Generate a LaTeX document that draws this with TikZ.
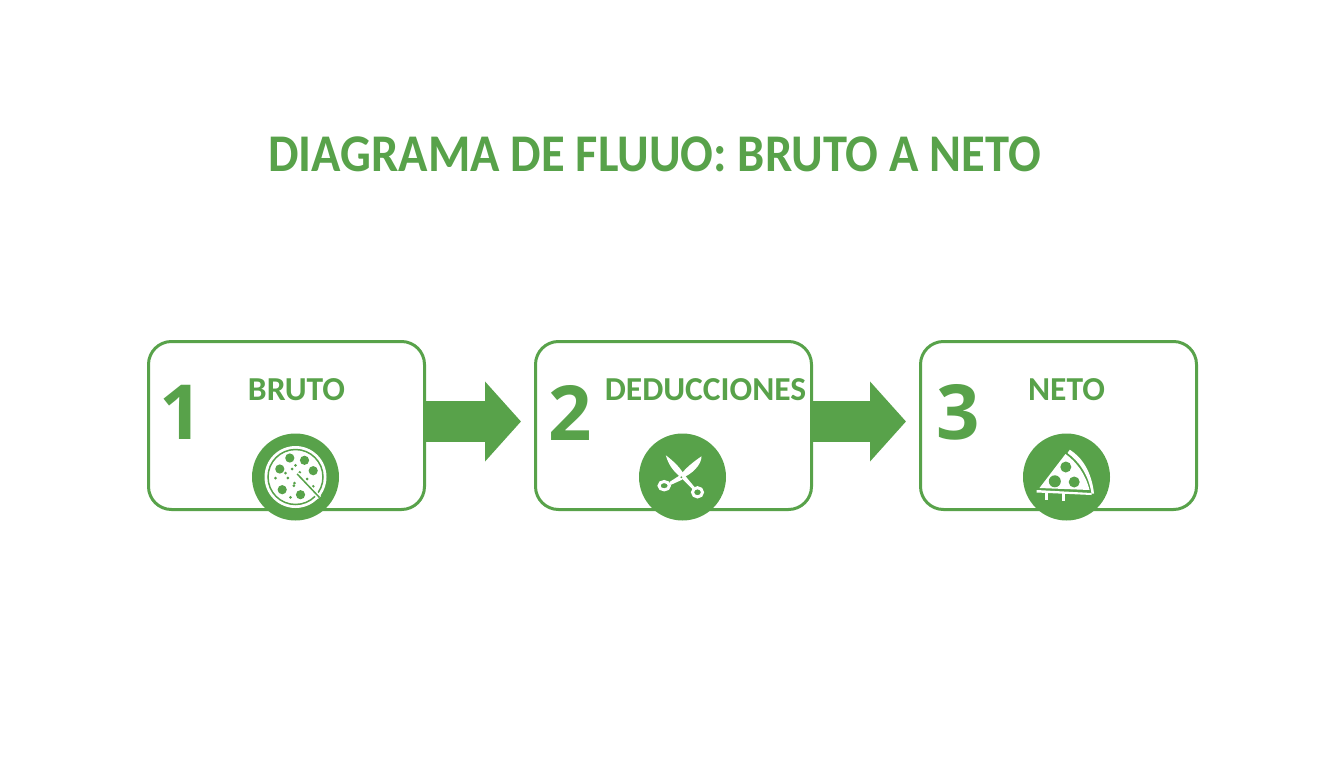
\documentclass[tikz,border=0pt]{standalone}
\usepackage{fontspec}
\setmainfont{Carlito}
\newfontfamily\numfont{Open Sans}
\usetikzlibrary{arrows.meta, positioning}
\definecolor{flowgreen}{RGB}{88, 162, 74}

\tikzset{
  stepbox/.style={draw=flowgreen, line width=3pt, rounded corners=23pt, minimum width=276pt, minimum height=168pt},
  stepnum/.style={text=flowgreen, font=\numfont\fontsize{76}{76}\selectfont\bfseries, inner sep=0pt},
  steplabel/.style={text=flowgreen, font=\fontsize{33.5}{33.5}\selectfont\bfseries, inner sep=0pt},
  stepicon/.style={circle, fill=flowgreen, minimum size=87pt, inner sep=0pt},
  steparrow/.style={draw=flowgreen, line width=41pt, -{Triangle[length=36pt, width=78pt]}}
}

\begin{document}
\begin{tikzpicture}[x=1pt, y=-1pt]
  \useasboundingbox (0,0) rectangle (1344,768);

  \node[text=flowgreen, font=\fontsize{53}{53}\selectfont\bfseries, inner sep=0pt, xscale=0.915, transform shape] (title) at (654.5,154) {DIAGRAMA DE FLUUO: BRUTO A NETO};

  % the three boxes
  \node[stepbox] (bruto) at (286.5,425.5) {};
  \node[stepbox, right=108pt of bruto] (deducciones) {};
  \node[stepbox, right=106pt of deducciones] (neto) {};

  % numbers and labels
  \node[stepnum] (num1) at ([xshift=-105pt, yshift=13pt]bruto.center) {1};
  \node[stepnum] (num2) at ([xshift=-103pt, yshift=13pt]deducciones.center) {2};
  \node[stepnum] (num3) at ([xshift=-100pt, yshift=13pt]neto.center) {3};
  \node[steplabel] (label1) at ([xshift=10pt, yshift=36pt]bruto.center) {BRUTO};
  \node[steplabel] (label2) at ([xshift=32pt, yshift=36pt]deducciones.center) {DEDUCCIONES};
  \node[steplabel] (label3) at ([xshift=8pt, yshift=36pt]neto.center) {NETO};

  % arrows between the boxes
  \draw[steparrow, shorten >=13pt] ([yshift=4pt]bruto.east) -- ([yshift=4pt]deducciones.west);
  \draw[steparrow, shorten >=13pt] ([yshift=4pt]deducciones.east) -- ([yshift=4pt]neto.west);

  % round icons
  \node[stepicon] (icon1) at ([xshift=9pt, yshift=-51.5pt]bruto.center) {};
  \node[stepicon] (icon2) at ([xshift=9pt, yshift=-51.5pt]deducciones.center) {};
  \node[stepicon] (icon3) at ([xshift=8pt, yshift=-51.5pt]neto.center) {};

  % whole pizza
  \begin{scope}[shift={(icon1.center)}]
    \fill[white] (0,0) circle (31);
    \draw[flowgreen, line width=1.5pt] (0,0) circle (27.5);
    \foreach \px/\py in {-5.7/-19, 9/-16.7, 17.7/-6.3, -15.7/-8, -13.3/12.7, 5/17.7}
      \fill[flowgreen] (\px,\py) circle (4.6);
    \foreach \px/\py in {-3.3/-8, 4.3/-4.7, -7.7/1, -20/1, 11.7/2, -1.7/8.7, 17.7/9.3, -5/20.3, 0/-11.7, -1/6, -10/-4}
      \fill[flowgreen] (\px,\py) circle (1.5);
    \draw[white, line width=4.5pt] (1.7,-3) -- (24,20.5);
    \draw[flowgreen, line width=1.5pt] (1.7,-3) -- (24,20.5);
  \end{scope}

  % scissors
  \begin{scope}[shift={(icon2.center)}, white]
    \fill (-16.7,-21.7) .. controls (-12,-18) and (-4,-12) .. (1.7,-2.3) -- (12,10) -- (10,12) -- (-3,-0.7) .. controls (-9,-6) and (-14,-12) .. cycle;
    \fill (19,-20.7) .. controls (19,-14) and (13,-6) .. (3.3,-0.7) -- (-1,3) -- (-12,8) -- (-13,5) -- (-1.7,-2.3) .. controls (3,-9) and (12,-16) .. cycle;
    \draw[line width=3pt] (15,15.3) ellipse (5 and 4.6);
    \draw[line width=3pt] (-18.3,8.7) ellipse (5.2 and 4.2);
    \fill[flowgreen] (-1.2,0.3) circle (1);
  \end{scope}

  % pizza slice
  \begin{scope}[shift={(icon3.center)}, white]
    \fill (-27,11) -- (-1,-23) .. controls (10,-15) and (19,-3) .. (23,13) -- cycle;
    \fill (3.3,-27.3) .. controls (15,-20) and (25,-6) .. (27.5,16.5) -- (25,16.5) .. controls (22,-3) and (12,-16) .. (1,-24) -- cycle;
    \fill (-30,13) -- (25,16) -- (25,18) -- (-30,15.5) -- cycle;
    \fill (-21.5,14) rectangle (-18.5,23);
    \fill (-4.8,15) rectangle (-1.8,24);
    \foreach \px/\py/\pr in {-0.7/-10/5.5, -11.7/4.3/6, 7.7/5/5.5}
      \fill[flowgreen] (\px,\py) circle (\pr);
  \end{scope}
\end{tikzpicture}
\end{document}
